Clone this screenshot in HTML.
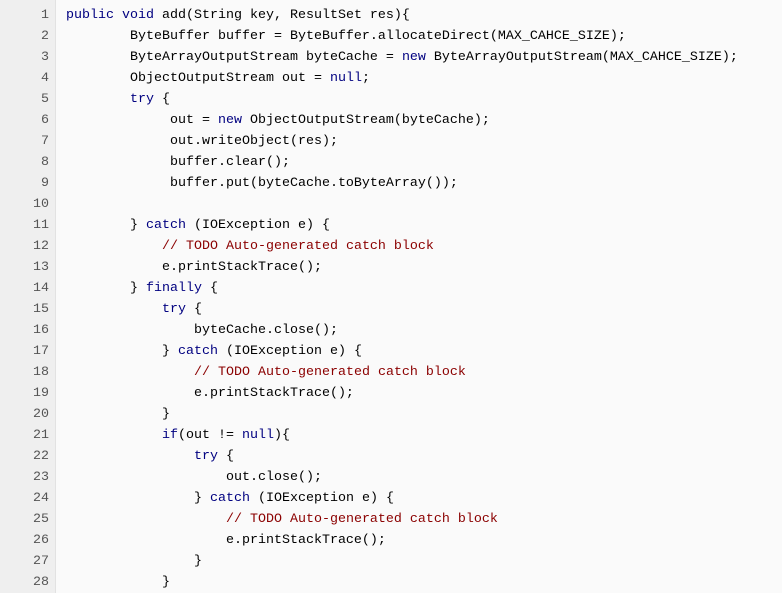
<!DOCTYPE html>
<html><head><meta charset="utf-8"><style>
html,body{margin:0;padding:0;width:782px;height:593px;overflow:hidden;background:#fafafa;}
#g{position:absolute;left:0;top:0;width:55px;height:593px;background:#efefef;border-right:1px solid #e2e2e2;}
.l{position:absolute;height:21px;line-height:21px;font-family:"Liberation Mono","Noto Sans CJK SC",monospace;font-size:13.33px;white-space:pre;color:#000;}
.n{left:0;width:49px;text-align:right;color:#555;}
.c{left:66px;}
.k{color:#000080;}
.m{color:#8b0000;}
</style></head><body>
<div id="g"></div>
<div class="l n" style="top:5px">1</div><div class="l c" style="top:5px"><span class="k">public void</span> add(String key, ResultSet res){</div>
<div class="l n" style="top:26px">2</div><div class="l c" style="top:26px">        ByteBuffer buffer = ByteBuffer.allocateDirect(MAX_CAHCE_SIZE);</div>
<div class="l n" style="top:47px">3</div><div class="l c" style="top:47px">        ByteArrayOutputStream byteCache = <span class="k">new</span> ByteArrayOutputStream(MAX_CAHCE_SIZE);</div>
<div class="l n" style="top:68px">4</div><div class="l c" style="top:68px">        ObjectOutputStream out = <span class="k">null</span>;</div>
<div class="l n" style="top:89px">5</div><div class="l c" style="top:89px">        <span class="k">try</span> {</div>
<div class="l n" style="top:110px">6</div><div class="l c" style="top:110px">             out = <span class="k">new</span> ObjectOutputStream(byteCache);</div>
<div class="l n" style="top:131px">7</div><div class="l c" style="top:131px">             out.writeObject(res);</div>
<div class="l n" style="top:152px">8</div><div class="l c" style="top:152px">             buffer.clear();</div>
<div class="l n" style="top:173px">9</div><div class="l c" style="top:173px">             buffer.put(byteCache.toByteArray());</div>
<div class="l n" style="top:194px">10</div>
<div class="l n" style="top:215px">11</div><div class="l c" style="top:215px">        } <span class="k">catch</span> (IOException e) {</div>
<div class="l n" style="top:236px">12</div><div class="l c" style="top:236px">            <span class="m">// TODO Auto-generated catch block</span></div>
<div class="l n" style="top:257px">13</div><div class="l c" style="top:257px">            e.printStackTrace();</div>
<div class="l n" style="top:278px">14</div><div class="l c" style="top:278px">        } <span class="k">finally</span> {</div>
<div class="l n" style="top:299px">15</div><div class="l c" style="top:299px">            <span class="k">try</span> {</div>
<div class="l n" style="top:320px">16</div><div class="l c" style="top:320px">                byteCache.close();</div>
<div class="l n" style="top:341px">17</div><div class="l c" style="top:341px">            } <span class="k">catch</span> (IOException e) {</div>
<div class="l n" style="top:362px">18</div><div class="l c" style="top:362px">                <span class="m">// TODO Auto-generated catch block</span></div>
<div class="l n" style="top:383px">19</div><div class="l c" style="top:383px">                e.printStackTrace();</div>
<div class="l n" style="top:404px">20</div><div class="l c" style="top:404px">            }</div>
<div class="l n" style="top:425px">21</div><div class="l c" style="top:425px">            <span class="k">if</span>(out != <span class="k">null</span>){</div>
<div class="l n" style="top:446px">22</div><div class="l c" style="top:446px">                <span class="k">try</span> {</div>
<div class="l n" style="top:467px">23</div><div class="l c" style="top:467px">                    out.close();</div>
<div class="l n" style="top:488px">24</div><div class="l c" style="top:488px">                } <span class="k">catch</span> (IOException e) {</div>
<div class="l n" style="top:509px">25</div><div class="l c" style="top:509px">                    <span class="m">// TODO Auto-generated catch block</span></div>
<div class="l n" style="top:530px">26</div><div class="l c" style="top:530px">                    e.printStackTrace();</div>
<div class="l n" style="top:551px">27</div><div class="l c" style="top:551px">                }</div>
<div class="l n" style="top:572px">28</div><div class="l c" style="top:572px">            }</div>
</body></html>
